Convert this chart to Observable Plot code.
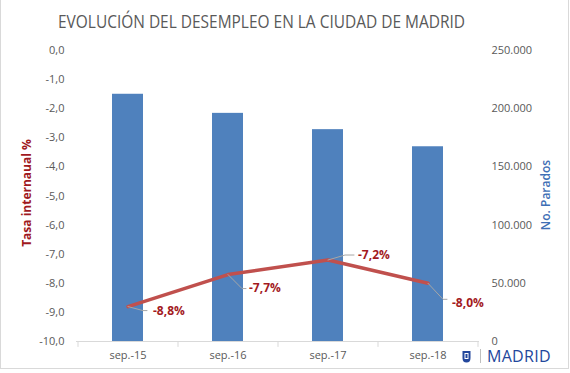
<!DOCTYPE html>
<html>
<head>
<meta charset="utf-8">
<script src="https://cdn.jsdelivr.net/npm/d3@7"></script>
<script src="https://cdn.jsdelivr.net/npm/@observablehq/plot@0.6"></script>
<style>
  html, body { margin: 0; padding: 0; background: #fff; }
  #wrap { position: relative; width: 570px; height: 373px; overflow: hidden; font-family: "Open Sans", sans-serif; }
  #frame { position: absolute; left: 0; top: -1px; width: 567px; height: 368px; border: 1px solid #d9d9d9; }
  #title { position: absolute; left: 58px; top: 12px; font-size: 18px; line-height: 18px; color: #595959; white-space: nowrap; transform-origin: 0 0; }
  .ytitle { position: absolute; white-space: nowrap; font-size: 12px; line-height: 12px; transform: translate(-50%, -50%) rotate(-90deg); }
  #logo { position: absolute; left: 462px; top: 349px; height: 14px; display: flex; align-items: center; }
  #logo .sep { width: 1px; height: 14px; background: #bfbfbf; margin: 0 6px 0 9px; }
  #logo .txt { font-size: 16px; line-height: 14px; color: #23479c; letter-spacing: 0.3px; }
  svg { position: absolute; left: 0; top: 0; }
</style>
</head>
<body>
<div id="wrap">
  <div id="frame"></div>
  <div id="title">EVOLUCIÓN DEL DESEMPLEO EN LA CIUDAD DE MADRID</div>
  <div class="ytitle" style="left:27px; top:193px; color:#a0191e; font-weight:bold;">Tasa internaual %</div>
  <div class="ytitle" style="left:546px; top:195px; color:#3f6fb5; font-weight:600;">No. Parados</div>
  <div id="logo">
    <svg width="9" height="13" viewBox="0 0 9 13" style="position:static">
      <path d="M0.5,1 L8.5,1 L8.5,8 Q8.5,12.5 4.5,12.5 Q0.5,12.5 0.5,8 Z" fill="#23479c"/>
      <rect x="2.5" y="3" width="4" height="6" fill="#fff"/>
      <rect x="3.5" y="4" width="2" height="4" fill="#23479c"/>
    </svg>
    <div class="sep"></div>
    <div class="txt">MADRID</div>
  </div>
</div>
<script>
// ---- data ----
const months = ["sep.-15", "sep.-16", "sep.-17", "sep.-18"];
const parados = [212400, 196000, 182000, 167300];
const tasa = [-8.8, -7.7, -7.2, -8.0];
const leftTicks = [0, -1, -2, -3, -4, -5, -6, -7, -8, -9, -10];
const rightTicks = [0, 50000, 100000, 150000, 200000, 250000];

const rows = months.map((m, i) => ({month: m, parados: parados[i], tasa: tasa[i]}));

// map the rate axis (-10..0) onto the count axis (0..250000)
const RMIN = -10, RMAX = 0, CMAX = 250000;
const toCount = r => (r - RMIN) / (RMAX - RMIN) * CMAX;

const es = d3.formatLocale({decimal: ",", thousands: ".", grouping: [3], currency: ["", "€"], minus: "-"});
const fmtCount = es.format(",");
const fmtRate = r => es.format(".1f")(r);

// leader line curve: diagonal then short horizontal, from the data point
function leaderCurve(ax, ay, hx) {
  return context => ({
    areaStart() {}, areaEnd() {}, lineStart() {}, lineEnd() {},
    point(x, y) { x = +x; y = +y; context.moveTo(x, y); context.lineTo(x + ax, y + ay); context.lineTo(x + ax + hx, y + ay); }
  });
}
// category-boundary ticks below the baseline
function boundaryTicks(len) {
  return context => {
    let pts = [];
    return {
      areaStart() {}, areaEnd() {},
      lineStart() { pts = []; },
      point(x, y) { pts.push([+x, +y]); },
      lineEnd() {
        if (pts.length < 2) return;
        const h = (pts[1][0] - pts[0][0]) / 2;
        pts.forEach(([x, y]) => { context.moveTo(x - h, y); context.lineTo(x - h, y + len); });
        const [lx, ly] = pts[pts.length - 1];
        context.moveTo(lx + h, ly); context.lineTo(lx + h, ly + len);
      }
    };
  };
}

const labelOpts = [
  {dx: 25, dy: 5,  lead: [15, 4, 4]},
  {dx: 21, dy: 14, lead: [14, 14, 4]},
  {dx: 30, dy: -5, lead: [17, -5, 9]},
  {dx: 24, dy: 20, lead: [15, 16, 4]}
];

const labelMarks = [];
rows.forEach((r, i) => {
  const o = labelOpts[i];
  labelMarks.push(Plot.line([r], {x: "month", y: d => toCount(d.tasa), curve: leaderCurve(...o.lead), stroke: "#a6a6a6", strokeWidth: 1}));
  labelMarks.push(Plot.text([r], {x: "month", y: d => toCount(d.tasa), text: d => fmtRate(d.tasa) + "%", textAnchor: "start", dx: o.dx, dy: o.dy, fill: "#a31a1e", fontWeight: "bold", fontSize: 12}));
});

const chart = Plot.plot({
  width: 570, height: 373,
  marginLeft: 76, marginRight: 91, marginTop: 50, marginBottom: 32,
  style: {fontFamily: "Open Sans, sans-serif", fontSize: "11px", color: "#595959", background: "transparent", overflow: "visible"},
  x: {domain: months, paddingInner: 0.69, paddingOuter: 0.345, label: null},
  y: {domain: [0, CMAX], label: null},
  marks: [
    Plot.barY(rows, {x: "month", y: "parados", fill: "#4f81bd"}),
    Plot.ruleY([0], {stroke: "#d9d9d9", strokeWidth: 1}),
    Plot.line(rows, {x: "month", y: () => 0, curve: boundaryTicks(5), stroke: "#d9d9d9", strokeWidth: 1}),
    Plot.line(rows, {x: "month", y: d => toCount(d.tasa), stroke: "#c0504d", strokeWidth: 3.5}),
    ...labelMarks,
    Plot.axisX({tickSize: 0, tickPadding: 10, label: null, fontSize: 11}),
    Plot.axisY({anchor: "left", ticks: leftTicks.map(toCount), tickFormat: v => fmtRate(RMIN + v / CMAX * (RMAX - RMIN)), tickSize: 0, tickPadding: 12, label: null}),
    Plot.axisY({anchor: "right", ticks: rightTicks, tickFormat: fmtCount, tickSize: 0, tickPadding: 12, label: null})
  ]
});
document.getElementById("wrap").appendChild(chart);

// fit title width to the reference's narrow title face
const t = document.getElementById("title");
const w = t.getBoundingClientRect().width;
t.style.transform = `scaleX(${407 / w})`;
</script>
</body>
</html>
